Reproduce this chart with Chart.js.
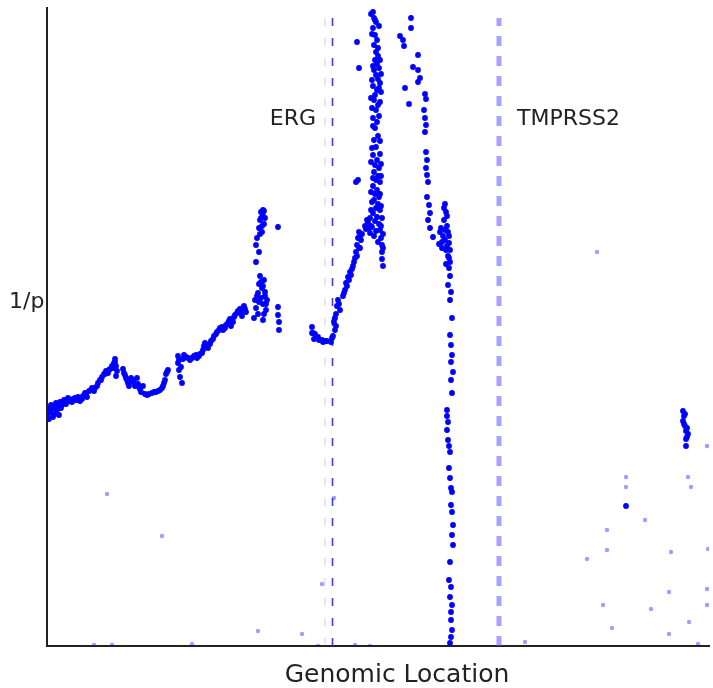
<!DOCTYPE html>
<html>
<head>
<meta charset="utf-8">
<script src="https://cdn.jsdelivr.net/npm/chart.js@4"></script>
<style>
  body { margin: 0; background: #fff; }
  canvas { display: block; }
</style>
</head>
<body>
<canvas id="chart" width="713" height="688"></canvas>
<script>
// genomic location (arbitrary units) vs 1/p
let strongHits = [
    [1,238],[1,232],[2,227],[4,241],[4,234],[6,229],[7,238],[9,243],[10,236],[12,231],[13,244],[15,241],
    [3,236],[5,240],[8,232],[11,240],[14,238],[18,244],[22,246],[25,244],[28,248],[32,247],[35,247],
    [17,246],[19,242],[21,248],[23,245],[26,247],[29,246],[31,249],[33,245],[36,250],[38,253],[40,249],
    [42,255],[45,258],[47,255],[50,260],[53,266],[55,269],[57,272],[59,275],[61,273],[63,277],[65,280],
    [67,283],[68,287],[69,280],[70,275],[69,270],
    [39,251],[44,256],[48,258],[51,263],[54,266],[58,272],[62,276],[66,278],[68,284],
    [76,277],[78,271],[80,266],[82,260],[84,268],[87,263],[90,268],[92,259],[94,254],[96,260],[100,251],
    [105,253],[109,254],[113,256],[116,260],[118,266],[119,272],[121,276],
    [77,273],[79,268],[81,263],[83,265],[86,266],[88,260],[91,262],[93,257],[98,252],[102,252],[107,254],
    [111,255],[115,258],[117,263],[120,274],
    [131,290],[131,283],[132,276],[133,269],[135,263],[136,287],[139,289],[143,286],[147,290],[150,288],
    [153,292],[156,296],[158,303],[161,298],[164,305],[167,310],[170,314],[173,318],[176,316],[179,321],
    [182,325],[184,320],[187,329],[190,333],[193,337],[195,330],[197,340],[199,334],
    [132,286],[134,279],[137,291],[141,288],[145,288],[149,291],[152,290],[155,293],[157,300],[160,301],
    [163,302],[166,307],[169,312],[172,316],[175,319],[178,318],[181,323],[183,327],[186,324],[188,331],
    [191,335],[194,333],[196,338],[198,337],
    [207,328],[208,346],[209,338],[211,353],[212,362],[213,370],[214,348],[215,358],[216,342],[217,366],
    [218,354],[219,336],[216,326],[217,332],[220,346],[209,384],[209,401],[210,408],[212,418],[213,426],
    [214,434],[216,430],[217,422],[215,414],[217,435],[231,419],[231,339],[231,331],[232,324],[232,316],
    [210,350],[212,344],[214,364],[216,360],[218,350],[219,342],[211,332],[213,412],[215,420],[216,436],
    [214,428],[218,428],[212,394],
    [265,319],[266,313],[267,307],[271,309],[275,306],[278,305],[284,304],[286,310],[288,316],[287,324],
    [289,332],[290,340],[291,346],[293,336],
    [265,313],[268,312],[272,306],[276,304],[280,305],[285,308],[289,320],[288,328],[292,342],
    [296,350],[298,356],[299,363],[301,369],[303,374],[305,377],[307,384],[309,394],[310,401],[311,408],
    [312,414],[308,388],[313,398],[314,406],[319,417],[321,424],[311,466],[312,578],[310,604],[309,464],
    [297,353],[300,360],[302,366],[304,371],[306,380],[310,390],[312,398],[313,410],[315,412],[318,420],
    [320,426],[322,420],
    [326,634],[327,628],[329,624],[326,618],[328,611],[330,606],[327,601],[329,594],[331,590],[328,586],
    [330,582],[332,578],[327,576],[329,571],[331,567],[333,563],[326,560],[330,556],[328,551],[334,554],
    [327,546],[331,541],[329,536],[326,528],[330,524],[328,518],[331,510],[327,506],[329,499],[326,491],
    [330,486],[328,481],[332,478],[327,474],[331,470],[329,466],[333,464],[326,460],[330,456],[328,452],
    [332,449],[327,446],[331,442],[329,438],[333,436],[326,433],[330,429],[328,425],[332,422],[325,419],
    [329,415],[333,416],[334,408],[335,401],[335,394],[335,387],[323,413],[324,420],
    [324,632],[328,626],[332,620],[325,612],[331,598],[333,586],[326,580],[334,572],[325,566],[332,558],
    [324,548],[333,544],[325,538],[332,530],[326,520],[333,505],[325,498],[333,492],[324,484],[334,482],
    [326,468],[334,470],[324,454],[333,452],[325,444],[334,440],[324,436],[335,428],[323,428],[334,420],
    [336,412],[322,418],[327,410],[331,404],[336,398],[336,380],
    [364,628],[364,618],[353,610],[356,606],[357,600],[371,591],[366,579],[371,576],[373,568],[371,564],
    [358,558],[362,542],[378,552],[379,547],[377,536],[378,528],[379,521],[378,514],[379,494],[380,486],
    [379,478],[380,471],[381,464],[380,449],[382,441],[383,433],[381,426],[383,418],[386,409],
    [398,442],[399,434],[397,426],[400,420],[393,414],[396,410],[401,414],[398,406],[392,402],[395,398],
    [402,403],[399,396],[401,390],[403,384],
    [397,438],[400,430],[394,418],[398,416],[402,410],[395,404],[400,400],[403,396],[402,388],[399,382],
    [402,378],[403,370],[401,361],[404,354],[403,346],[405,328],[403,311],[404,301],[405,291],[404,284],
    [406,274],[404,266],[405,253],[400,236],[400,230],[401,224],[400,216],[401,206],[402,200],[403,194],
    [402,178],[403,168],[404,158],[405,154],[404,141],[405,134],[406,121],[405,111],[406,101],[403,84],
    [402,66],[404,59],[403,49],[405,41],[404,34],[404,26],[405,16],[404,9],[403,3],
    [636,235],[637,230],[636,225],[638,220],[639,215],[641,212],[640,209],[639,200],[579,140],
    [637,222],[640,218],[639,207],[638,232]
];

let weakHits = [
    [60,152],[115,110],[287,148],[275,62],[211,15],[255,12],[47,1],[65,1],[145,2],[271,0],[308,1],[323,0],
    [550,394],[579,169],[579,159],[598,126],[560,116],[560,96],[540,87],[624,94],[661,97],[660,200],
    [641,169],[644,159],[622,54],[660,57],[556,41],[604,37],[660,41],[565,18],[642,24],[622,12],[478,4],
    [651,2]
];

let locMax = 662;
let scoreMax = 638;
let ergLoc = 285.5;
let ergEdgeLoc = 278;
let tmprssLoc = 452;
let markerTop = 628;

function toXY(list) {
    return list.map(p => ({x: p[0], y: p[1]}));
}

function vline(loc) {
    return [{x: loc, y: 0}, {x: loc, y: markerTop}];
}

let labelPlugin = {
    id: 'labelPlugin',
    afterDraw: (chart) => {
        const {ctx} = chart;
        ctx.save();
        ctx.fillStyle = '#222';
        ctx.font = '22px "DejaVu Sans"';
        ctx.textBaseline = 'alphabetic';
        ctx.textAlign = 'right';
        ctx.fillText('ERG', 316, 125);
        ctx.textAlign = 'left';
        ctx.fillText('TMPRSS2', 517, 125);
        ctx.textBaseline = 'middle';
        ctx.fillText('1/p', 9, 302);
        ctx.font = '25px "DejaVu Sans"';
        ctx.textAlign = 'center';
        ctx.textBaseline = 'alphabetic';
        ctx.fillText('Genomic Location', 397, 682);
        ctx.restore();
    }
};

let chart_obj = new Chart(document.getElementById('chart'), {
    type: 'scatter',
    data: {
        datasets: [
            {
                data: toXY(strongHits),
                backgroundColor: '#0000ff',
                borderWidth: 0,
                pointRadius: 2.9,
            },
            {
                data: toXY(weakHits),
                backgroundColor: 'rgba(0,0,255,0.38)',
                borderWidth: 0,
                pointRadius: 2.2,
            },
            {
                type: 'line',
                data: vline(ergLoc),
                borderColor: 'rgba(40,40,255,0.9)',
                borderWidth: 1.6,
                borderDash: [8, 12],
                pointRadius: 0,
                fill: false,
            },
            {
                type: 'line',
                data: vline(ergEdgeLoc),
                borderColor: 'rgba(90,90,255,0.3)',
                borderWidth: 1,
                borderDash: [8, 12],
                pointRadius: 0,
                fill: false,
            },
            {
                type: 'line',
                data: vline(tmprssLoc),
                borderColor: 'rgba(90,90,255,0.55)',
                borderWidth: 5,
                borderDash: [10, 10],
                pointRadius: 0,
                fill: false,
            },
        ],
    },
    options: {
        responsive: false,
        animation: false,
        events: [],
        layout: {
            padding: {left: 47, top: 8, right: 0, bottom: 42},
        },
        scales: {
            x: {
                type: 'linear',
                min: 0,
                max: locMax,
                ticks: {display: false},
                grid: {display: false, drawTicks: false},
                border: {display: true, color: '#222', width: 2},
            },
            y: {
                type: 'linear',
                min: 0,
                max: scoreMax,
                ticks: {display: false},
                grid: {display: false, drawTicks: false},
                border: {display: true, color: '#222', width: 2},
            },
        },
        plugins: {
            legend: {display: false},
            tooltip: {enabled: false},
        },
    },
    plugins: [labelPlugin],
});
</script>
</body>
</html>
